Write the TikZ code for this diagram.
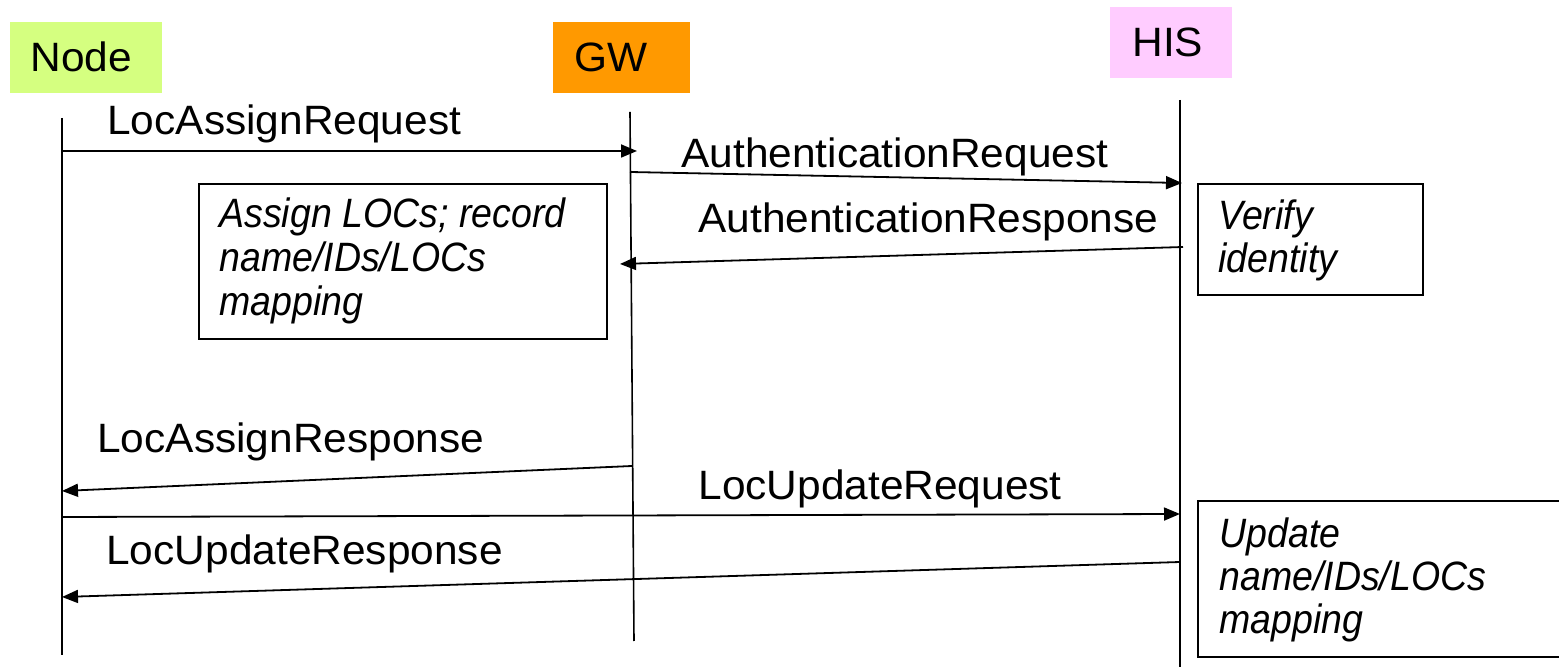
\documentclass[tikz,border=0pt]{standalone}
\usepackage{fontspec}
\setmainfont{Liberation Sans}
\usetikzlibrary{arrows.meta}
\definecolor{nodegreen}{RGB}{213,255,128}
\definecolor{gworange}{RGB}{255,153,0}
\definecolor{hispink}{RGB}{255,204,255}
\tikzset{
  hdrbox/.style={anchor=north west, inner sep=0pt, draw=none},
  txt/.style={anchor=base west, inner sep=0pt, font=\fontsize{20.5}{24}\selectfont\addfontfeature{FakeStretch=1.035}},
  itxt/.style={anchor=base west, inner sep=0pt, font=\fontsize{20.5}{24}\selectfont\itshape\addfontfeature{FakeStretch=0.915}},
  life/.style={line width=0.8pt},
  msg/.style={line width=0.9pt, -{Triangle[length=8pt,width=6.5pt]}},
  notebox/.style={draw, line width=0.9pt, anchor=north west, inner sep=0pt}
}
\begin{document}
\begin{tikzpicture}[x=0.5pt,y=-0.5pt]
\useasboundingbox (0,0) rectangle (1559,667);
% headers
\node[hdrbox, fill=nodegreen, minimum width=76pt, minimum height=35.5pt] (hnode) at (10,22) {};
\node[txt] (tnode) at (30,72) {Node};
\node[hdrbox, fill=gworange, minimum width=68.5pt, minimum height=35.5pt] (hgw) at (553,22) {};
\node[txt] (tgw) at (574,72) {GW};
\node[hdrbox, fill=hispink, minimum width=61pt, minimum height=35.5pt] (his) at (1110,7) {};
\node[txt] (this) at (1132,57) {HIS};
% lifelines
\coordinate (ntop) at (62,118); \coordinate (nbot) at (62,655);
\coordinate (gtop) at (630,112); \coordinate (gbot) at (634,641);
\coordinate (htop) at (1180,100); \coordinate (hbot) at (1180,667);
\draw[life] (ntop) -- (nbot);
\draw[life] (gtop) -- (gbot);
\draw[life] (htop) -- (hbot);
% note boxes
\node[notebox, minimum width=204pt, minimum height=77.5pt] (assignbox) at (198,183) {};
\node[itxt] (as1) at (219,228) {Assign LOCs; record};
\node[itxt] (as2) at (219,272) {name/IDs/LOCs};
\node[itxt] (as3) at (219,316) {mapping};
\node[notebox, minimum width=112.5pt, minimum height=55.5pt] (verifybox) at (1197,183) {};
\node[itxt] (vf1) at (1218,230) {Verify};
\node[itxt] (vf2) at (1218,273) {identity};
\node[notebox, minimum width=190pt, minimum height=78pt] (updatebox) at (1197,500) {};
\node[itxt] (up1) at (1219,548) {Update};
\node[itxt] (up2) at (1219,591) {name/IDs/LOCs};
\node[itxt] (up3) at (1219,634) {mapping};
% message endpoints
\coordinate (m1s) at (62,151);   \coordinate (m1e) at (637,151);
\coordinate (m2s) at (630,172);  \coordinate (m2e) at (1182,183);
\coordinate (m3s) at (1183,247); \coordinate (m3e) at (620,264);
\coordinate (m4s) at (632,466);  \coordinate (m4e) at (62,491);
\coordinate (m5s) at (62,517);   \coordinate (m5e) at (1180,514);
\coordinate (m6s) at (1180,562); \coordinate (m6e) at (62,597);
\draw[msg] (m1s) -- (m1e);
\draw[msg] (m2s) -- (m2e);
\draw[msg] (m3s) -- (m3e);
\draw[msg] (m4s) -- (m4e);
\draw[msg] (m5s) -- (m5e);
\draw[msg] (m6s) -- (m6e);
% message labels
\node[txt] (l1) at (107,135) {LocAssignRequest};
\node[txt] (l2) at (681,168) {AuthenticationRequest};
\node[txt] (l3) at (698,233) {AuthenticationResponse};
\node[txt] (l4) at (97,453) {LocAssignResponse};
\node[txt] (l5) at (698,500) {LocUpdateRequest};
\node[txt] (l6) at (106,565) {LocUpdateResponse};
\end{tikzpicture}
\end{document}
